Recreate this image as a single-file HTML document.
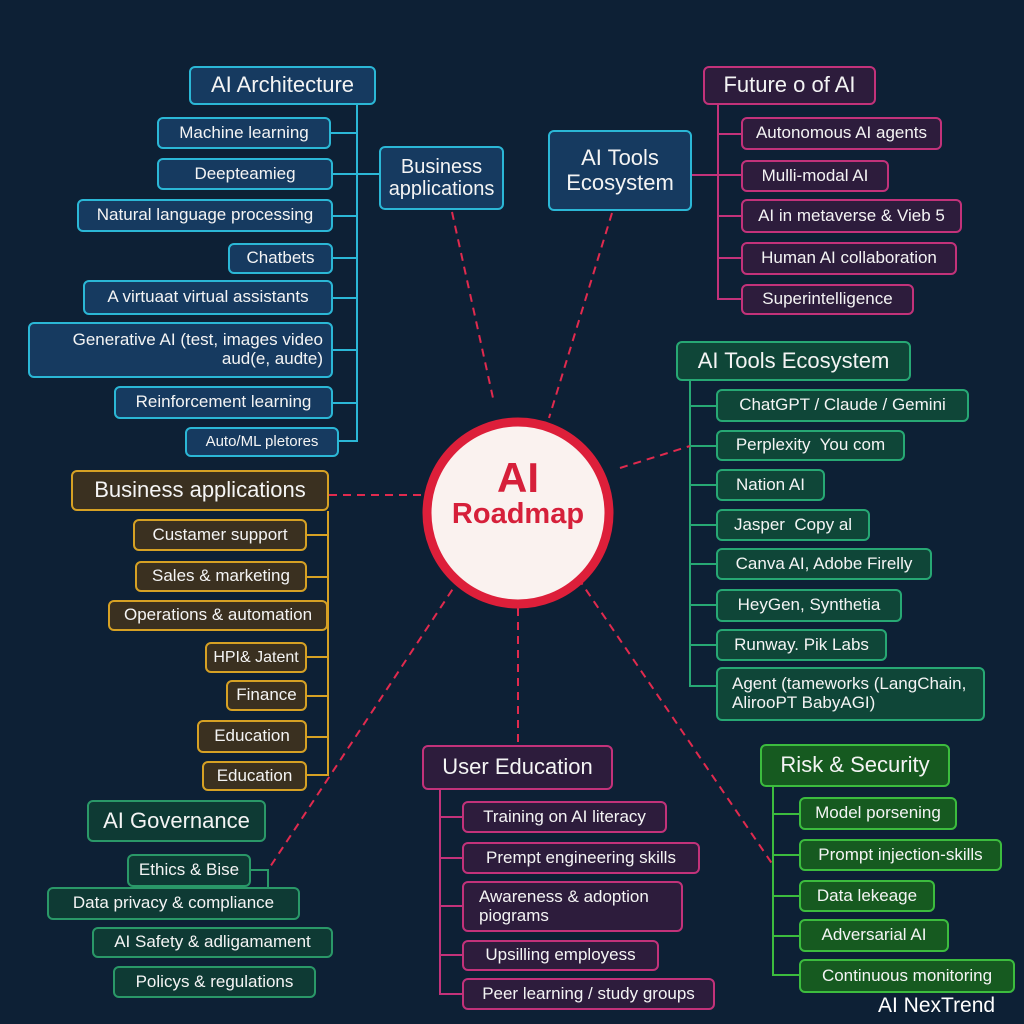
<!DOCTYPE html>
<html><head><meta charset="utf-8"><style>
body{margin:0;width:1024px;height:1024px;background:#0d2035;position:relative;overflow:hidden;font-family:"Liberation Sans","DejaVu Sans",sans-serif;color:#f4f4f4}
.b{position:absolute;box-sizing:border-box;border:2px solid;border-radius:6px;display:flex;align-items:center;justify-content:center;font-size:17px;line-height:1.1;white-space:nowrap}
.bl{background:#163a60;border-color:#2bb7d6}
.pu{background:#2d1c3c;border-color:#c2327a}
.gr{background:#0f4638;border-color:#27a874}
.go{background:#3a3020;border-color:#d6a124}
.gv{background:#0e3a34;border-color:#2a9868}
.rk{background:#165a20;border-color:#3cbc3e}
.h{font-size:22px}
svg{position:absolute;left:0;top:0}
</style></head><body>
<svg width="1024" height="1024">
<g fill="none" stroke-width="2">
<g stroke="#2bb7d6"><path d="M357 105V441H339M331 133H357M333 174H379M333 216H357M333 258H357M333 298H357M333 350H357M333 403H357"/></g>
<g stroke="#c2327a"><path d="M718 105V299H741M718 134H741M692 175H741M718 216H741M718 258H741"/></g>
<g stroke="#27a874"><path d="M690 381V686H716M690 406H716M690 446H716M690 485H716M690 525H716M690 564H716M690 605H716M690 645H716"/></g>
<g stroke="#d6a124"><path d="M328 511V775H307M307 535H328M307 577H328M328 616H328M307 657H328M307 696H328M307 737H328"/></g>
<g stroke="#c2327a"><path d="M440 790V994H462M440 817H462M440 858H462M440 906H462M440 955H462"/></g>
<g stroke="#3cbc3e"><path d="M773 787V975H799M773 814H799M773 855H799M773 896H799M773 936H799"/></g>
<g stroke="#2a9868"><path d="M251 870H268V887"/></g>
<g stroke="#e02a4e" stroke-dasharray="8 6"><path d="M452 212L493 398M612 213L549 418M329 495H422M620 468L690 446M518 608V745M460 578L268 870M578 578L773 865"/></g>
</g>
<circle cx="518" cy="513" r="91" fill="#faf2ef" stroke="#dd1f3a" stroke-width="9"/>
<text x="518" y="492" text-anchor="middle" font-family="Liberation Sans, sans-serif" font-size="42" font-weight="bold" fill="#d6203a">AI</text>
<text x="518" y="523" text-anchor="middle" font-family="Liberation Sans, sans-serif" font-size="29" font-weight="bold" fill="#d6203a">Roadmap</text>
</svg>

<div class="b bl h" style="left:189px;top:66px;width:187px;height:39px">AI Architecture</div>
<div class="b bl" style="left:157px;top:117px;width:174px;height:32px">Machine learning</div>
<div class="b bl" style="left:157px;top:158px;width:176px;height:32px">Deepteamieg</div>
<div class="b bl" style="left:77px;top:199px;width:256px;height:33px">Natural language processing</div>
<div class="b bl" style="left:228px;top:243px;width:105px;height:31px">Chatbets</div>
<div class="b bl" style="left:83px;top:280px;width:250px;height:35px">A virtuaat virtual assistants</div>
<div class="b bl" style="left:28px;top:322px;width:305px;height:56px;text-align:right;justify-content:flex-end;padding-right:8px">Generative AI (test, images video<br>aud(e, audte)</div>
<div class="b bl" style="left:114px;top:386px;width:219px;height:33px">Reinforcement learning</div>
<div class="b bl" style="left:185px;top:427px;width:154px;height:30px;font-size:15px">Auto/ML pletores</div>
<div class="b bl" style="left:379px;top:146px;width:125px;height:64px;font-size:20px;text-align:center">Business<br>applications</div>

<div class="b pu h" style="left:703px;top:66px;width:173px;height:39px">Future o of AI</div>
<div class="b pu" style="left:741px;top:117px;width:201px;height:33px">Autonomous AI agents</div>
<div class="b pu" style="left:741px;top:160px;width:148px;height:32px">Mulli-modal AI</div>
<div class="b pu" style="left:741px;top:199px;width:221px;height:34px">AI in metaverse &amp; Vieb 5</div>
<div class="b pu" style="left:741px;top:242px;width:216px;height:33px">Human AI collaboration</div>
<div class="b pu" style="left:741px;top:284px;width:173px;height:31px">Superintelligence</div>
<div class="b bl" style="left:548px;top:130px;width:144px;height:81px;font-size:22px;text-align:center">AI Tools<br>Ecosystem</div>

<div class="b gr h" style="left:676px;top:341px;width:235px;height:40px">AI Tools Ecosystem</div>
<div class="b gr" style="left:716px;top:389px;width:253px;height:33px">ChatGPT / Claude / Gemini</div>
<div class="b gr" style="left:716px;top:430px;width:189px;height:31px">Perplexity&nbsp; You com</div>
<div class="b gr" style="left:716px;top:469px;width:109px;height:32px">Nation AI</div>
<div class="b gr" style="left:716px;top:509px;width:154px;height:32px">Jasper&nbsp; Copy al</div>
<div class="b gr" style="left:716px;top:548px;width:216px;height:32px">Canva AI, Adobe Firelly</div>
<div class="b gr" style="left:716px;top:589px;width:186px;height:33px">HeyGen, Synthetia</div>
<div class="b gr" style="left:716px;top:629px;width:171px;height:32px">Runway. Pik Labs</div>
<div class="b gr" style="left:716px;top:667px;width:269px;height:54px;justify-content:flex-start;padding-left:14px">Agent (tameworks (LangChain,<br>AlirooPT BabyAGI)</div>

<div class="b go h" style="left:71px;top:470px;width:258px;height:41px">Business applications</div>
<div class="b go" style="left:133px;top:519px;width:174px;height:32px">Custamer support</div>
<div class="b go" style="left:135px;top:561px;width:172px;height:31px">Sales &amp; marketing</div>
<div class="b go" style="left:108px;top:600px;width:220px;height:31px">Operations &amp; automation</div>
<div class="b go" style="left:205px;top:642px;width:102px;height:31px;font-size:16px">HPI&amp; Jatent</div>
<div class="b go" style="left:226px;top:680px;width:81px;height:31px">Finance</div>
<div class="b go" style="left:197px;top:720px;width:110px;height:33px">Education</div>
<div class="b go" style="left:202px;top:761px;width:105px;height:30px">Education</div>

<div class="b gv h" style="left:87px;top:800px;width:179px;height:42px">AI Governance</div>
<div class="b gv" style="left:127px;top:854px;width:124px;height:33px">Ethics &amp; Bise</div>
<div class="b gv" style="left:47px;top:887px;width:253px;height:33px">Data privacy &amp; compliance</div>
<div class="b gv" style="left:92px;top:927px;width:241px;height:31px">AI Safety &amp; adligamament</div>
<div class="b gv" style="left:113px;top:966px;width:203px;height:32px">Policys &amp; regulations</div>

<div class="b pu h" style="left:422px;top:745px;width:191px;height:45px">User Education</div>
<div class="b pu" style="left:462px;top:801px;width:205px;height:32px">Training on AI literacy</div>
<div class="b pu" style="left:462px;top:842px;width:238px;height:32px">Prempt engineering skills</div>
<div class="b pu" style="left:462px;top:881px;width:221px;height:51px;justify-content:flex-start;padding-left:15px">Awareness &amp; adoption<br>piograms</div>
<div class="b pu" style="left:462px;top:940px;width:197px;height:31px">Upsilling employess</div>
<div class="b pu" style="left:462px;top:978px;width:253px;height:32px">Peer learning / study groups</div>

<div class="b rk h" style="left:760px;top:744px;width:190px;height:43px">Risk &amp; Security</div>
<div class="b rk" style="left:799px;top:797px;width:158px;height:33px">Model porsening</div>
<div class="b rk" style="left:799px;top:839px;width:203px;height:32px">Prompt injection-skills</div>
<div class="b rk" style="left:799px;top:880px;width:136px;height:32px">Data lekeage</div>
<div class="b rk" style="left:799px;top:919px;width:150px;height:33px">Adversarial AI</div>
<div class="b rk" style="left:799px;top:959px;width:216px;height:34px">Continuous monitoring</div>

<div style="position:absolute;left:878px;top:994px;font-size:21px;color:#fff">AI NexTrend</div>
</body></html>
